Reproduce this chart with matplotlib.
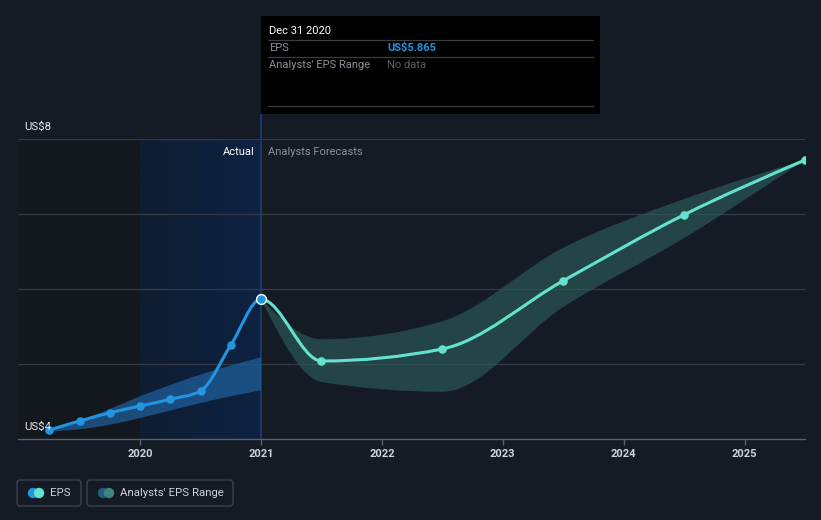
import numpy as np
import matplotlib
matplotlib.use("Agg")
import matplotlib.pyplot as plt
from matplotlib.path import Path
from matplotlib.patches import PathPatch, FancyBboxPatch, Rectangle, Circle

plt.rcParams['font.family'] = ['Roboto', 'DejaVu Sans']

# --- data (decimal years, EPS in US$) ---
actual_x = [2019.25, 2019.5, 2019.75, 2020.0, 2020.25, 2020.5, 2020.75, 2021.0]
actual_eps = [4.12, 4.24, 4.35, 4.44, 4.53, 4.64, 5.25, 5.865]
actual_hi = [4.10, 4.24, 4.40, 4.57, 4.72, 4.86, 4.98, 5.09]
actual_lo = [4.10, 4.13, 4.19, 4.28, 4.38, 4.48, 4.57, 4.65]

fc_x = [2021.0, 2021.5, 2022.5, 2023.5, 2024.5, 2025.5]
fc_eps = [5.865, 5.04, 5.20, 6.11, 6.99, 7.72]
fc_hi = [5.865, 5.33, 5.57, 6.55, 7.20, 7.72]
fc_lo = [5.865, 4.76, 4.63, 5.76, 6.68, 7.72]

year_ticks = [2020, 2021, 2022, 2023, 2024, 2025]

BG = '#151b25'
BLUE = '#2394df'
TEAL = '#64e2cf'


def monotone_segments(x, y, t_start=None, t_end=None):
    # d3-style monotoneX tangents, returned as cubic bezier vertices
    x = np.asarray(x, float)
    y = np.asarray(y, float)
    h = np.diff(x)
    s = np.diff(y) / h
    n = len(x)
    t = np.zeros(n)
    for i in range(1, n - 1):
        p = (s[i - 1] * h[i] + s[i] * h[i - 1]) / (h[i - 1] + h[i])
        t[i] = (np.sign(s[i - 1]) + np.sign(s[i])) * min(abs(s[i - 1]), abs(s[i]), 0.5 * abs(p))
    t[0] = (3 * s[0] - t[1]) / 2 if n > 2 else s[0]
    t[-1] = (3 * s[-1] - t[-2]) / 2 if n > 2 else s[-1]
    if t_start is not None:
        t[0] = t_start
    if t_end is not None:
        t[-1] = t_end
    verts = []
    for i in range(n - 1):
        d = h[i] / 3
        verts += [(x[i] + d, y[i] + d * t[i]), (x[i + 1] - d, y[i + 1] - d * t[i + 1]), (x[i + 1], y[i + 1])]
    return verts


def curve_path(x, y, t_start=None, t_end=None):
    verts = [(x[0], y[0])] + monotone_segments(x, y, t_start, t_end)
    codes = [Path.MOVETO] + [Path.CURVE4] * (len(verts) - 1)
    return Path(verts, codes)


def band_path(x, hi, lo):
    up = [(x[0], hi[0])] + monotone_segments(x, hi)
    down = [(x[-1], lo[-1])] + monotone_segments(x[::-1], lo[::-1])
    verts = up + [down[0]] + down[1:] + [up[0]]
    codes = ([Path.MOVETO] + [Path.CURVE4] * (len(up) - 1) + [Path.LINETO]
             + [Path.CURVE4] * (len(down) - 1) + [Path.CLOSEPOLY])
    return Path(verts, codes)


fig = plt.figure(figsize=(8.21, 5.2), dpi=100)
fig.patch.set_facecolor(BG)

W, H = 821, 520
ax = fig.add_axes([18 / W, (H - 439) / H, (805 - 18) / W, 300 / H])
ax.set_facecolor(BG)

# past / highlight regions
ax.axvspan(2018.99, 2020.0, color='#13171e', zorder=0, lw=0)
grad = np.linspace(0, 1, 100).reshape(1, -1)
ax.imshow(grad, extent=[2020.0, 2021.0, 4, 8], aspect='auto', zorder=0.5,
          cmap=matplotlib.colors.LinearSegmentedColormap.from_list('hl', ['#0f1d31', '#0d2242']))
ax.set_xlim(2018.99, 2025.5)
ax.set_ylim(4, 8)

for yv in [5, 6, 7, 8]:
    ax.axhline(yv, color='#363c46', lw=0.9, zorder=1)

# bands
ax.add_patch(PathPatch(band_path(actual_x, actual_hi, actual_lo), facecolor='#1f5d99', alpha=0.75, lw=0, zorder=2))
ax.add_patch(PathPatch(band_path(fc_x, fc_hi, fc_lo), facecolor='#2d5c5a', alpha=0.65, lw=0, zorder=2))

# lines (flat tangent at the join, 2021)
ax.add_patch(PathPatch(curve_path(fc_x, fc_eps, t_start=0.0), facecolor='none', edgecolor=TEAL, lw=2.2, zorder=3))
ax.add_patch(PathPatch(curve_path(actual_x, actual_eps, t_end=0.0), facecolor='none', edgecolor=BLUE, lw=2.2, zorder=4))
ax.scatter(fc_x[1:], fc_eps[1:], s=38, color=TEAL, zorder=5, lw=0)
ax.scatter(actual_x[:-1], actual_eps[:-1], s=38, color=BLUE, zorder=5, lw=0)
ax.scatter(actual_x[-1:], actual_eps[-1:], s=50, color=BLUE, edgecolor='white', lw=1, zorder=6)

# divider line at last actual
ax.plot([2021.0, 2021.0], [4, 8.32], color='#1d3f6e', lw=1.2, zorder=1.5, clip_on=False)

for s in ['top', 'right', 'left']:
    ax.spines[s].set_visible(False)
ax.spines['bottom'].set_color('#5b616b')
ax.spines['bottom'].set_linewidth(1)
ax.set_yticks([])
ax.set_xticks(year_ticks)
ax.set_xticklabels([str(y) for y in year_ticks])
ax.tick_params(axis='x', colors='#5b616b', length=4, width=1, labelcolor='#d0d3d8',
               labelsize=8, pad=3)
for lab in ax.get_xticklabels():
    lab.set_fontweight('bold')

ax.text(2020.95, 7.83, 'Actual', color='#ffffff', fontsize=8, ha='right', va='center')
ax.text(2021.06, 7.83, 'Analysts Forecasts', color='#8a8f98', fontsize=8, ha='left', va='center')

# overlay in pixel coords
ov = fig.add_axes([0, 0, 1, 1])
ov.set_xlim(0, W)
ov.set_ylim(H, 0)
ov.axis('off')
ov.patch.set_alpha(0)

ov.text(24, 127, 'US$8', color='#e6e8eb', fontsize=8.2, va='center', ha='left')
ov.text(24, 427, 'US$4', color='#e6e8eb', fontsize=8.2, va='center', ha='left')

# tooltip
ov.add_patch(Rectangle((261, 16), 339, 98, facecolor='#000000', lw=0))
ov.text(269, 31, 'Dec 31 2020', color='#ffffff', fontsize=8, va='center')
for yl in [40, 57, 106]:
    ov.plot([268, 593], [yl, yl], color='#3a3d42', lw=0.9)
ov.text(269, 48, 'EPS', color='#8a8f98', fontsize=8, va='center')
ov.text(387, 48, 'US$5.865', color=BLUE, fontsize=8, va='center', fontweight='bold')
ov.text(269, 65, "Analysts' EPS Range", color='#8a8f98', fontsize=8, va='center')
ov.text(387, 65, 'No data', color='#5b5f66', fontsize=8, va='center')

# legend
ov.add_patch(FancyBboxPatch((17, 480), 64, 26, boxstyle='round,pad=0,rounding_size=3',
                            facecolor='none', edgecolor='#3d434d', lw=1))
ov.add_patch(FancyBboxPatch((87, 480), 146, 26, boxstyle='round,pad=0,rounding_size=3',
                            facecolor='none', edgecolor='#3d434d', lw=1))
ov.add_patch(Circle((33, 493), 4.5, color=BLUE))
ov.add_patch(Circle((39, 493), 4.5, color=TEAL))
ov.add_patch(Circle((103, 493), 4.5, color='#225b86'))
ov.add_patch(Circle((109, 493), 4.5, color='#3e8580'))
ov.text(50, 493, 'EPS', color='#d0d3d8', fontsize=8.2, va='center')
ov.text(120, 493, "Analysts' EPS Range", color='#d0d3d8', fontsize=8.2, va='center')

fig.savefig('out.png', dpi=100, facecolor=BG)
